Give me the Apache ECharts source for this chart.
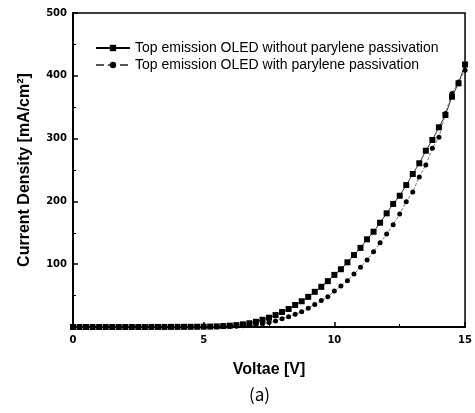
<!DOCTYPE html>
<html>
<head>
<meta charset="utf-8">
<script src="https://cdn.jsdelivr.net/npm/echarts@6/dist/echarts.min.js"></script>
<style>
  html, body { margin: 0; padding: 0; background: #fff; }
  #chart { width: 475px; height: 413px; }
</style>
</head>
<body>
<div id="chart"></div>
<script>
// voltage steps (V)
const voltage = [
  0, 0.25, 0.5, 0.75, 1, 1.25, 1.5, 1.75, 2, 2.25, 2.5, 2.75, 3, 3.25, 3.5, 3.75,
  4, 4.25, 4.5, 4.75, 5, 5.25, 5.5, 5.75, 6, 6.25, 6.5, 6.75, 7, 7.25, 7.5, 7.75,
  8, 8.25, 8.5, 8.75, 9, 9.25, 9.5, 9.75, 10, 10.25, 10.5, 10.75, 11, 11.25, 11.5, 11.75,
  12, 12.25, 12.5, 12.75, 13, 13.25, 13.5, 13.75, 14, 14.25, 14.5, 14.75, 15
];
// current density (mA/cm2), without parylene
const withoutParylene = [
  0, 0, 0, 0, 0, 0, 0, 0, 0, 0, 0, 0, 0.1, 0.1, 0.1, 0.2,
  0.2, 0.3, 0.3, 0.4, 0.5, 0.7, 1.0, 1.5, 2.1, 3.0, 4.2, 6.0, 8.3, 11.5, 14.8, 19,
  23.9, 28.7, 35, 41, 48, 56, 64, 73, 83, 92, 103, 114.6, 126, 139.6, 151.7, 166,
  181, 196, 209, 226, 243.6, 260.7, 280.7, 297.8, 318, 337.6, 366.7, 388, 418
];
// with parylene
const withParylene = [
  0, 0, 0, 0, 0, 0, 0, 0, 0, 0, 0, 0, 0, 0, 0, 0.1,
  0.1, 0.1, 0.1, 0.2, 0.2, 0.3, 0.4, 0.6, 0.9, 1.3, 1.8, 2.5, 3.5, 5, 7, 9.6,
  13.2, 16.4, 20.2, 24.4, 29.8, 36, 42, 48.3, 57.3, 65.3, 73.7, 84.4, 95, 106.7, 120, 134,
  148, 163, 180, 199.6, 215, 239, 258, 284.5, 302, 340, 372, 390, 409
];
const seriesNames = [
  'Top emission OLED without parylene passivation',
  'Top emission OLED with parylene passivation'
];

const chart = echarts.init(document.getElementById('chart'));

const pairs = arr => voltage.map((v, i) => [v, arr[i]]);
const tickFont = { fontFamily: 'DejaVu Sans', fontWeight: 'bold', fontSize: 10, color: '#000' };
const titleFont = { fontFamily: 'Liberation Sans', fontWeight: 'bold', fontSize: 16, color: '#000' };

chart.setOption({
  animation: false,
  backgroundColor: '#fff',
  grid: {
    left: 73, right: 9, top: 13, bottom: 86,
    show: true, borderColor: '#000', borderWidth: 1.5, backgroundColor: 'transparent'
  },
  legend: {
    orient: 'vertical',
    left: 90, top: 36,
    itemWidth: 34, itemHeight: 8, itemGap: 3,
    textStyle: { fontFamily: 'Liberation Sans', fontSize: 14, color: '#000' },
    data: seriesNames
  },
  xAxis: {
    type: 'value', min: 0, max: 15, interval: 5,
    name: 'Voltae [V]', nameLocation: 'middle', nameGap: 35,
    nameTextStyle: titleFont,
    axisLine: { lineStyle: { color: '#000', width: 2 } },
    axisTick: { inside: true, length: 5, lineStyle: { color: '#000', width: 1.5 } },
    minorTick: { show: true, splitNumber: 2, length: 3, lineStyle: { color: '#000' } },
    axisLabel: Object.assign({ margin: 8 }, tickFont),
    splitLine: { show: false }
  },
  yAxis: {
    type: 'value', min: 0, max: 500, interval: 100,
    name: 'Current Density [mA/cm²]', nameLocation: 'middle', nameGap: 40,
    nameTextStyle: titleFont,
    axisLine: { lineStyle: { color: '#000', width: 2 } },
    axisTick: { inside: true, length: 5, lineStyle: { color: '#000', width: 1.5 } },
    minorTick: { show: true, splitNumber: 2, length: 3, lineStyle: { color: '#000' } },
    axisLabel: Object.assign({ margin: 6, formatter: v => (v === 0 ? '' : v) }, tickFont),
    splitLine: { show: false }
  },
  series: [
    {
      name: seriesNames[0], type: 'line', data: pairs(withoutParylene),
      symbol: 'rect', symbolSize: 6,
      itemStyle: { color: '#000' },
      lineStyle: { color: '#000', width: 0.8 }
    },
    {
      name: seriesNames[1], type: 'line', data: pairs(withParylene),
      symbol: 'circle', symbolSize: 5,
      itemStyle: { color: '#000' },
      lineStyle: { color: '#555', width: 0.8, type: 'dashed' }
    }
  ],
  graphic: [{
    type: 'text', left: 249, top: 386,
    style: { text: '(a)', font: '17px "Noto Sans CJK KR"', fill: '#000' }
  }]
});
</script>
</body>
</html>
